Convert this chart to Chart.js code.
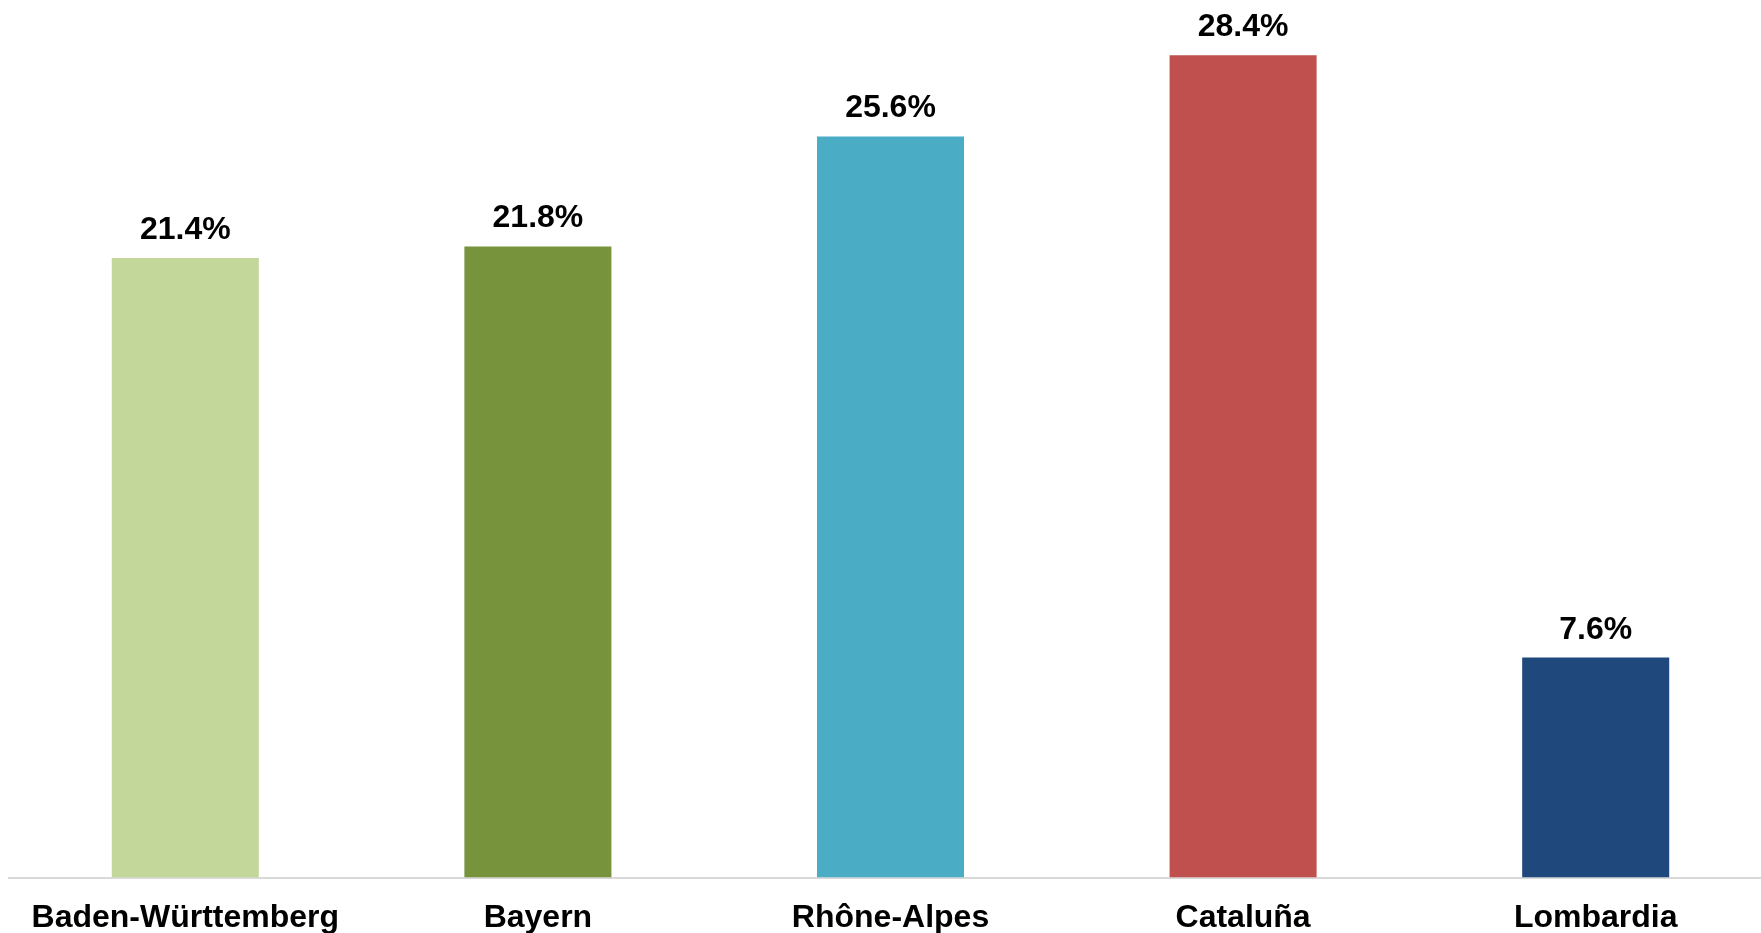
<!DOCTYPE html>
<html>
<head>
<meta charset="utf-8">
<script src="https://cdn.jsdelivr.net/npm/chart.js@4/dist/chart.umd.min.js"></script>
<style>
  html, body { margin: 0; padding: 0; background: #fff; overflow: hidden; }
  #wrap { width: 1772px; height: 961px; }
</style>
</head>
<body>
<div id="wrap"><canvas id="chart" width="1772" height="961"></canvas></div>
<script>
// regions and their share (%)
const regions = ["Baden-Württemberg", "Bayern", "Rhône-Alpes", "Cataluña", "Lombardia"];
const shares = [21.4, 21.8, 25.6, 28.4, 7.6];
const barColors = ["#C4D79B", "#77933C", "#4BACC6", "#C0504D", "#1F497D"];

const FONT = "Arial, 'Liberation Sans', sans-serif";

// value labels above each bar
const valueLabels = {
  id: "valueLabels",
  afterDatasetsDraw(chart) {
    const ctx = chart.ctx;
    const meta = chart.getDatasetMeta(0);
    ctx.save();
    ctx.font = "bold 32px " + FONT;
    ctx.fillStyle = "#000";
    ctx.textAlign = "center";
    ctx.textBaseline = "alphabetic";
    meta.data.forEach((bar, i) => {
      ctx.fillText(shares[i].toFixed(1) + "%", bar.x, bar.y - 19);
    });
    ctx.restore();
  }
};

new Chart(document.getElementById("chart").getContext("2d"), {
  type: "bar",
  data: {
    labels: regions,
    datasets: [{
      data: shares,
      backgroundColor: barColors,
      borderWidth: 0,
      categoryPercentage: 0.417,
      barPercentage: 1
    }]
  },
  options: {
    responsive: false,
    animation: false,
    layout: { padding: { left: 9, right: 0, top: 9, bottom: 3 } },
    plugins: { legend: { display: false }, tooltip: { enabled: false } },
    scales: {
      x: {
        grid: { display: false, drawTicks: false },
        border: { display: true, color: "#d9d9d9", width: 2 },
        ticks: {
          color: "#000",
          font: { family: FONT, size: 32, weight: "bold" },
          padding: 21,
          maxRotation: 0,
          autoSkip: false
        }
      },
      y: { display: false, min: 0, max: 30 }
    }
  },
  plugins: [valueLabels]
});
</script>
</body>
</html>
